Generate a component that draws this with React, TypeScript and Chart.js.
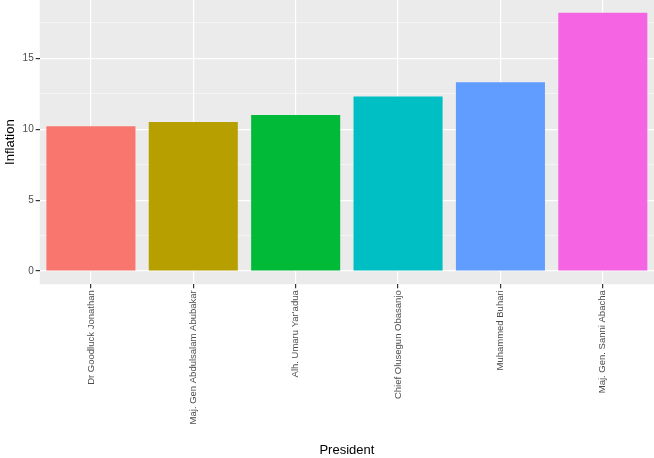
import { useRef, useEffect } from 'react'
import { Chart, registerables } from 'chart.js'

Chart.register(...registerables)

const presidents = [
  'Dr Goodluck Jonathan',
  'Maj. Gen Abdulsalam Abubakar',
  'Alh. Umaru Yar\'adua',
  'Chief Olusegun Obasanjo',
  'Muhammed Buhari',
  'Maj. Gen. Sanni Abacha',
]
const inflation = [10.2, 10.5, 11.0, 12.3, 13.3, 18.2]
const barColors = ['#F8766D', '#B79F00', '#00BA38', '#00BFC4', '#619CFF', '#F564E3']

const panelBg = {
  id: 'panelBg',
  beforeDraw(chart: Chart) {
    const { ctx, chartArea: a } = chart
    ctx.save()
    ctx.fillStyle = '#EBEBEB'
    ctx.fillRect(a.left, a.top, a.right - a.left, a.bottom - a.top)
    ctx.restore()
  },
}

export default function App() {
  const canvasRef = useRef<HTMLCanvasElement>(null)

  useEffect(() => {
    if (!canvasRef.current) return
    const chart = new Chart(canvasRef.current, {
      type: 'bar',
      data: {
        labels: presidents,
        datasets: [{ data: inflation, backgroundColor: barColors, barPercentage: 0.87, categoryPercentage: 1 }],
      },
      options: {
        animation: false,
        responsive: true,
        maintainAspectRatio: false,
        layout: { padding: { top: 0, right: 0, bottom: 0, left: 3 } },
        plugins: { legend: { display: false }, tooltip: { enabled: false } },
        scales: {
          x: {
            offset: true,
            border: { display: false },
            grid: { offset: false, color: '#FFFFFF', lineWidth: 1.2, tickColor: '#333333', tickLength: 4 },
            ticks: { color: '#4D4D4D', font: { family: 'Liberation Sans', size: 9.5 }, minRotation: 90, maxRotation: 90, padding: 2 },
            title: { display: true, text: 'President', color: '#000000', font: { family: 'Liberation Sans', size: 13 }, padding: { top: 16, bottom: 0 } },
          },
          y: {
            min: -0.93,
            max: 19.1,
            border: { display: false },
            afterBuildTicks(axis) {
              const t = []
              for (let v = 0; v <= 17.5; v += 2.5) t.push({ value: v })
              axis.ticks = t
            },
            grid: {
              color: '#FFFFFF',
              lineWidth: (c) => (c.tick && c.tick.value % 5 === 0 ? 1.2 : 0.5),
              tickColor: (c) => (c.tick && c.tick.value % 5 === 0 ? '#333333' : 'rgba(0,0,0,0)'),
              tickLength: 4,
            },
            ticks: {
              color: '#4D4D4D',
              font: { family: 'Liberation Sans', size: 10 },
              padding: 2,
              callback: (v) => (Number(v) % 5 === 0 ? String(v) : ''),
            },
            title: { display: true, text: 'Inflation', color: '#000000', font: { family: 'Liberation Sans', size: 13 }, padding: { top: 0, bottom: 2 } },
          },
        },
      },
      plugins: [panelBg],
    })
    return () => { chart.destroy() }
  }, [])

  return (
    <div style={{ position: 'fixed', left: 0, top: -8, width: 654, height: 466, background: '#fff' }}>
      <canvas ref={canvasRef} />
    </div>
  )
}
